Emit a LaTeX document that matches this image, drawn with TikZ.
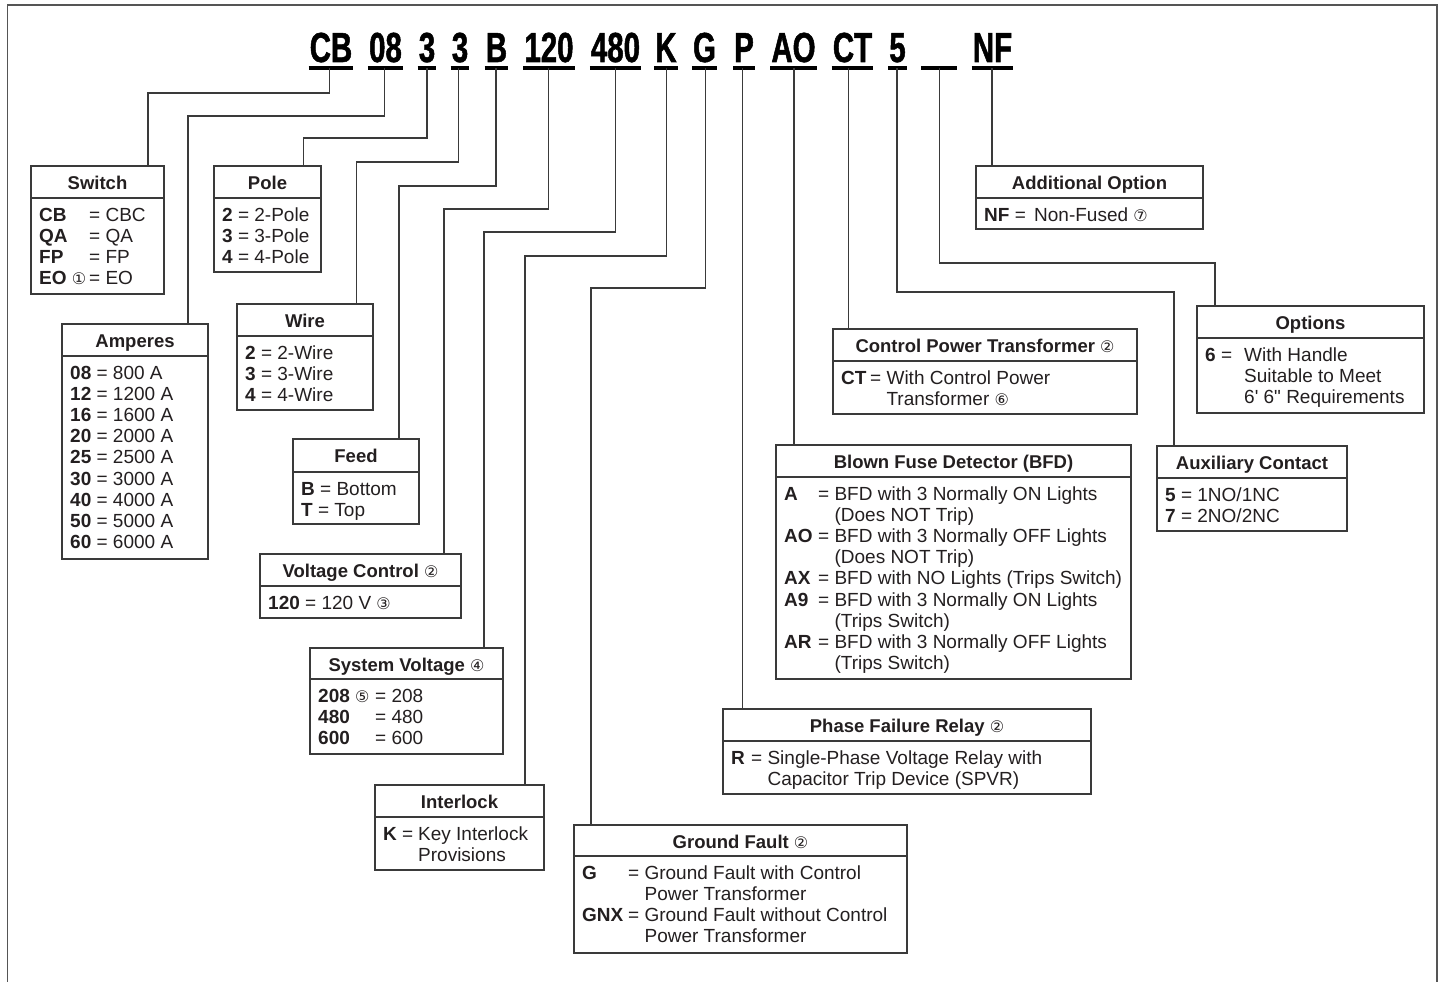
\documentclass[tikz,border=0pt]{standalone}
\usepackage{fontspec}
\setmainfont{Liberation Sans}
\newfontfamily\codefont[FakeStretch=0.7,FakeBold=1.2]{Liberation Sans}
\newfontfamily\circfont{DejaVu Sans}
\definecolor{lc}{HTML}{3A3A3A}
\definecolor{tc}{HTML}{231F20}
\definecolor{fc}{HTML}{555555}
\newcommand\cn[1]{{\circfont\mdseries\fontsize{16}{16}\selectfont #1}}
\newcommand\orow[3]{\makebox[#1pt][l]{#2}=\ #3}
\newcommand\crow[2]{\hspace*{#1pt}\phantom{=}\ #2}
\newcommand\obox[8]{%
  \node[box, minimum width={#4-#2}, minimum height={#6-#3}] (#1) at ({(#2+#4)/2},{(#3+#6)/2}) {};
  \draw[hline] (#1.west |- 0,#5) -- (#1.east |- 0,#5);
  \node[ttl] (#1t) at ({(#2+#4)/2},#3+23) {#7};
  \node[bdy] (#1b) at (#2+8,#5+23) {\begin{tabular}[t]{@{}l@{}}#8\end{tabular}};
}
\begin{document}
\begin{tikzpicture}[x=1pt,y=-1pt,
  conn/.style={draw=lc, line width=1.3pt},
  box/.style={draw=lc, line width=1.3pt, rectangle, inner sep=0pt, outer sep=0pt},
  hline/.style={draw=lc, line width=1.3pt},
  ttl/.style={anchor=base, inner sep=0pt, font=\bfseries\fontsize{18.5}{21.2}\selectfont, text=tc},
  bdy/.style={anchor=base west, inner sep=0pt, font=\fontsize{19}{21.2}\selectfont, text=tc},
  code/.style={anchor=base, inner sep=0pt, font=\codefont\bfseries\fontsize{42}{42}\selectfont},
  uline/.style={draw=black, line width=3.5pt},
  frame/.style={draw=fc, line width=1.6pt}]
\useasboundingbox (0,0) rectangle (1444,982);
\draw[frame] (7.5,982) -- (7.5,5) -- (1437,5) -- (1437,982);

% code row
\node[code] (c1) at (331,62) {CB};
\node[code] (c2) at (385.5,62) {08};
\node[code] (c3) at (427,62) {3};
\node[code] (c4) at (460,62) {3};
\node[code] (c5) at (496.5,62) {B};
\node[code] (c6) at (549,62) {120};
\node[code] (c7) at (615.5,62) {480};
\node[code] (c8) at (666,62) {K};
\node[code] (c9) at (704.5,62) {G};
\node[code] (c10) at (744,62) {P};
\node[code] (c11) at (793.5,62) {AO};
\node[code] (c12) at (852.5,62) {CT};
\node[code] (c13) at (897.5,62) {5};
\node[code] (c14) at (939,62) {\phantom{00}};
\node[code] (c15) at (992.5,62) {NF};
\foreach \n in {c1,c2,c3,c4,c5,c6,c7,c8,c9,c10,c11,c12,c13,c14,c15}
  \draw[uline] ([xshift=-1pt,yshift=-6pt]\n.base west) -- ([xshift=1pt,yshift=-6pt]\n.base east);

% boxes
\obox{sw}{31}{166}{164}{198}{294}{Switch}{%
  \orow{50}{\textbf{CB}}{CBC}\\ \orow{50}{\textbf{QA}}{QA}\\ \orow{50}{\textbf{FP}}{FP}\\ \orow{50}{\textbf{EO} \cn{①}}{EO}}
\obox{pole}{214}{166}{321}{198}{272}{Pole}{%
  \textbf{2} = 2-Pole\\ \textbf{3} = 3-Pole\\ \textbf{4} = 4-Pole}
\obox{amp}{62}{324}{208}{356}{559}{Amperes}{%
  \textbf{08} = 800 A\\ \textbf{12} = 1200 A\\ \textbf{16} = 1600 A\\ \textbf{20} = 2000 A\\
  \textbf{25} = 2500 A\\ \textbf{30} = 3000 A\\ \textbf{40} = 4000 A\\ \textbf{50} = 5000 A\\ \textbf{60} = 6000 A}
\obox{wire}{237}{304}{373}{336}{410}{Wire}{%
  \textbf{2} = 2-Wire\\ \textbf{3} = 3-Wire\\ \textbf{4} = 4-Wire}
\obox{feed}{293}{439}{419}{472}{524}{Feed}{%
  \textbf{B} = Bottom\\ \textbf{T} = Top}
\obox{vc}{260}{554}{461}{586}{618}{Voltage Control \cn{②}}{%
  \textbf{120} = 120 V \cn{③}}
\obox{sv}{310}{648}{503}{679}{754}{System Voltage \cn{④}}{%
  \orow{57}{\textbf{208} \cn{⑤}}{208}\\ \orow{57}{\textbf{480}}{480}\\ \orow{57}{\textbf{600}}{600}}
\obox{il}{375}{785}{544}{817}{870}{Interlock}{%
  \makebox[35pt][l]{\textbf{K} =}Key Interlock\\ \hspace*{35pt}Provisions}
\obox{gf}{574}{825}{907}{856}{953}{Ground Fault \cn{②}}{%
  \orow{46}{\textbf{G}}{Ground Fault with Control}\\ \crow{46}{Power Transformer}\\
  \orow{46}{\textbf{GNX}}{Ground Fault without Control}\\ \crow{46}{Power Transformer}}
\obox{pfr}{723}{709}{1091}{741}{794}{Phase Failure Relay \cn{②}}{%
  \orow{20}{\textbf{R}}{Single-Phase Voltage Relay with}\\ \crow{20}{Capacitor Trip Device (SPVR)}}
\obox{bfd}{776}{445}{1131}{477}{679}{Blown Fuse Detector (BFD)}{%
  \orow{34}{\textbf{A}}{BFD with 3 Normally ON Lights}\\ \crow{34}{(Does NOT Trip)}\\
  \orow{34}{\textbf{AO}}{BFD with 3 Normally OFF Lights}\\ \crow{34}{(Does NOT Trip)}\\
  \orow{34}{\textbf{AX}}{BFD with NO Lights (Trips Switch)}\\
  \orow{34}{\textbf{A9}}{BFD with 3 Normally ON Lights}\\ \crow{34}{(Trips Switch)}\\
  \orow{34}{\textbf{AR}}{BFD with 3 Normally OFF Lights}\\ \crow{34}{(Trips Switch)}}
\obox{ctb}{833}{329}{1137}{361}{414}{Control Power Transformer \cn{②}}{%
  \orow{29}{\textbf{CT}}{With Control Power}\\ \crow{29}{Transformer \cn{⑥}}}
\obox{aux}{1157}{446}{1347}{478}{531}{Auxiliary Contact}{%
  \textbf{5} = 1NO/1NC\\ \textbf{7} = 2NO/2NC}
\obox{opt}{1197}{306}{1424}{338}{413}{Options}{%
  \makebox[39pt][l]{\textbf{6} =}With Handle\\ \hspace*{39pt}Suitable to Meet\\
  \hspace*{39pt}6\textquotesingle\ 6\textquotedbl\ Requirements}
\obox{add}{976}{166}{1203}{198}{229}{Additional Option}{%
  \makebox[50pt][l]{\textbf{NF} =}Non-Fused \cn{⑦}}

% connector start points
\coordinate (u1) at (329.7,68);
\coordinate (u2) at (384.8,68);
\coordinate (u3) at (427,68);
\coordinate (u4) at (458.5,68);
\coordinate (u5) at (496,68);
\coordinate (u6) at (548.7,68);
\coordinate (u7) at (615.7,68);
\coordinate (u8) at (666.6,68);
\coordinate (u9) at (705.6,68);
\coordinate (u10) at (742.6,68);
\coordinate (u11) at (794,68);
\coordinate (u12) at (848.5,68);
\coordinate (u13) at (897,68);
\coordinate (u14) at (939.5,68);
\coordinate (u15) at (992,68);
% elbows
\coordinate (j1) at (148,93);
\coordinate (j2) at (188,116);
\coordinate (j3) at (303.5,138);
\coordinate (j4) at (356.5,162);
\coordinate (j5) at (399,186);
\coordinate (j6) at (444,209);
\coordinate (j7) at (484,232);
\coordinate (j8) at (525,256);
\coordinate (j9) at (591,288);
\coordinate (j13) at (1174,292);
\coordinate (j14) at (1215,263);

\draw[conn] (u1) |- (j1) -- (j1 |- sw.north);
\draw[conn] (u2) |- (j2) -- (j2 |- amp.north);
\draw[conn] (u3) |- (j3) -- (j3 |- pole.north);
\draw[conn] (u4) |- (j4) -- (j4 |- wire.north);
\draw[conn] (u5) |- (j5) -- (j5 |- feed.north);
\draw[conn] (u6) |- (j6) -- (j6 |- vc.north);
\draw[conn] (u7) |- (j7) -- (j7 |- sv.north);
\draw[conn] (u8) |- (j8) -- (j8 |- il.north);
\draw[conn] (u9) |- (j9) -- (j9 |- gf.north);
\draw[conn] (u10) -- (u10 |- pfr.north);
\draw[conn] (u11) -- (u11 |- bfd.north);
\draw[conn] (u12) -- (u12 |- ctb.north);
\draw[conn] (u13) |- (j13) -- (j13 |- aux.north);
\draw[conn] (u14) |- (j14) -- (j14 |- opt.north);
\draw[conn] (u15) -- (u15 |- add.north);
\end{tikzpicture}
\end{document}
